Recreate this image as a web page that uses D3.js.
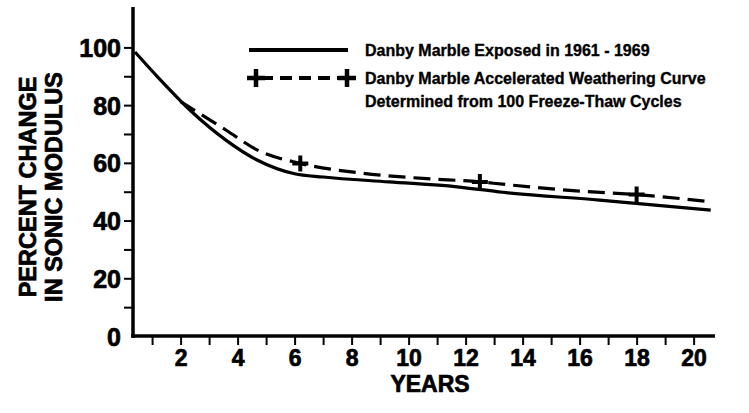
<!DOCTYPE html>
<html>
<head>
<meta charset="utf-8">
<script src="https://cdn.jsdelivr.net/npm/d3@7"></script>
<style>
    html, body { margin: 0; padding: 0; background: #fff; }
    svg { display: block; font-family: "Liberation Sans", Arial, Helvetica, sans-serif; font-weight: bold; }
    .heavy { stroke: #000; stroke-width: 0.7px; fill: #000; }
</style>
</head>
<body>
<div id="chart"></div>
<script>
/* Sonic modulus change of Danby marble vs years */

// Exposed 1961 - 1969 (solid)
const exposedYears = [0.4, 1.2, 2.4, 3.6, 4.7, 6.0, 7.0, 9.3, 11.7, 13.3, 16.7, 20.6];
const exposedValues = [98.4, 89.7, 77.6, 67.8, 60.9, 56.2, 55.1, 53.4, 51.7, 49.8, 47.1, 43.6];

// Accelerated weathering curve (dashed)
const acceleratedYears = [2.0, 3.6, 4.7, 6.2, 8.2, 10.5, 12.5, 13.3, 16.0, 18.0, 20.6];
const acceleratedValues = [81.2, 71.3, 64.4, 59.8, 56.6, 54.6, 53.4, 52.6, 50.2, 49.0, 46.5];

// Freeze-thaw points (+)
const markerYears = [6.2, 12.5, 18.0];
const markerValues = [59.8, 53.4, 49.0];

const xTicks = d3.range(1, 21);
const yTicks = d3.range(0, 101, 10);

const legendLabels = [
    'Danby Marble Exposed in 1961 - 1969',
    'Danby Marble Accelerated Weathering Curve',
    'Determined from 100 Freeze-Thaw Cycles'
];

const width = 749;
const height = 413;

const svg = d3.select('#chart').append('svg')
    .attr('width', width)
    .attr('height', height);

// Scales
const x = d3.scaleLinear()
    .domain([0.33, 20.75])
    .range([133, 715]);

const y = d3.scaleLinear()
    .domain([0, 114])
    .range([336, 7]);

// Y axis
const yAxis = svg.append('g')
    .attr('transform', `translate(${x.range()[0]},0)`)
    .call(d3.axisLeft(y)
        .tickValues(yTicks)
        .tickSize(9)
        .tickPadding(3)
        .tickFormat(d => d % 20 === 0 ? d : ''));

yAxis.select('.domain').remove();
yAxis.selectAll('.tick line').attr('stroke-width', 2);
yAxis.selectAll('.tick').filter(d => d === 0).select('line').remove();
yAxis.selectAll('text')
    .attr('class', 'heavy')
    .attr('font-size', 25)
    .attr('dy', '0.36em');

svg.append('line')
    .attr('x1', x.range()[0])
    .attr('x2', x.range()[0])
    .attr('y1', y(0) + 1.75)
    .attr('y2', y.range()[1])
    .attr('stroke', '#000')
    .attr('stroke-width', 3.5);

// X axis
const xAxis = svg.append('g')
    .attr('transform', `translate(0,${y(0)})`)
    .call(d3.axisBottom(x)
        .tickValues(xTicks)
        .tickSize(9)
        .tickPadding(5)
        .tickFormat(d => d % 2 === 0 ? d : ''));

xAxis.select('.domain').remove();
xAxis.selectAll('.tick line').attr('stroke-width', 2);
xAxis.selectAll('text')
    .attr('class', 'heavy')
    .attr('font-size', 23);

svg.append('line')
    .attr('x1', x.range()[0] - 1.75)
    .attr('x2', x.range()[1])
    .attr('y1', y(0))
    .attr('y2', y(0))
    .attr('stroke', '#000')
    .attr('stroke-width', 3.5);

// Axis titles
svg.append('text')
    .attr('class', 'heavy')
    .attr('x', 430)
    .attr('y', 392)
    .attr('text-anchor', 'middle')
    .attr('font-size', 23)
    .text('YEARS');

const yTitle = svg.append('text')
    .attr('class', 'heavy')
    .attr('transform', 'translate(0,187) rotate(-90)')
    .attr('text-anchor', 'middle')
    .attr('font-size', 23.5);

yTitle.append('tspan').attr('x', 0).attr('y', 36).text('PERCENT CHANGE');
yTitle.append('tspan').attr('x', 0).attr('y', 62).text('IN SONIC MODULUS');

// Curves
const line = d3.line()
    .x(d => x(d[0]))
    .y(d => y(d[1]))
    .curve(d3.curveMonotoneX);

const exposed = exposedYears.map((yr, i) => [yr, exposedValues[i]]);
const accelerated = acceleratedYears.map((yr, i) => [yr, acceleratedValues[i]]);

svg.append('path')
    .datum(accelerated)
    .attr('d', line)
    .attr('fill', 'none')
    .attr('stroke', '#000')
    .attr('stroke-width', 3.2)
    .attr('stroke-dasharray', '17,8');

svg.append('path')
    .datum(exposed)
    .attr('d', line)
    .attr('fill', 'none')
    .attr('stroke', '#000')
    .attr('stroke-width', 3.2);

// Plus markers
function drawPlus(cx, cy, r, w) {
    svg.append('path')
        .attr('d', `M${cx - r},${cy}H${cx + r}M${cx},${cy - r}V${cy + r}`)
        .attr('stroke', '#000')
        .attr('stroke-width', w)
        .attr('fill', 'none');
}

markerYears.forEach((yr, i) => drawPlus(x(yr), y(markerValues[i]), 8, 4));

// Legend
svg.append('line')
    .attr('x1', 249)
    .attr('x2', 348)
    .attr('y1', 50)
    .attr('y2', 50)
    .attr('stroke', '#000')
    .attr('stroke-width', 4);

svg.append('line')
    .attr('x1', 256)
    .attr('x2', 347)
    .attr('y1', 78)
    .attr('y2', 78)
    .attr('stroke', '#000')
    .attr('stroke-width', 4)
    .attr('stroke-dasharray', '12,7')
    .attr('stroke-dashoffset', -5);

drawPlus(256, 78, 9, 4.5);
drawPlus(347, 78, 9, 4.5);

const legendY = [56, 84, 107];
legendLabels.forEach((label, i) => {
    svg.append('text')
        .attr('x', 365)
        .attr('y', legendY[i])
        .attr('font-size', 16)
        .attr('stroke', '#000')
        .attr('stroke-width', 0.35)
        .text(label);
});
</script>
</body>
</html>
